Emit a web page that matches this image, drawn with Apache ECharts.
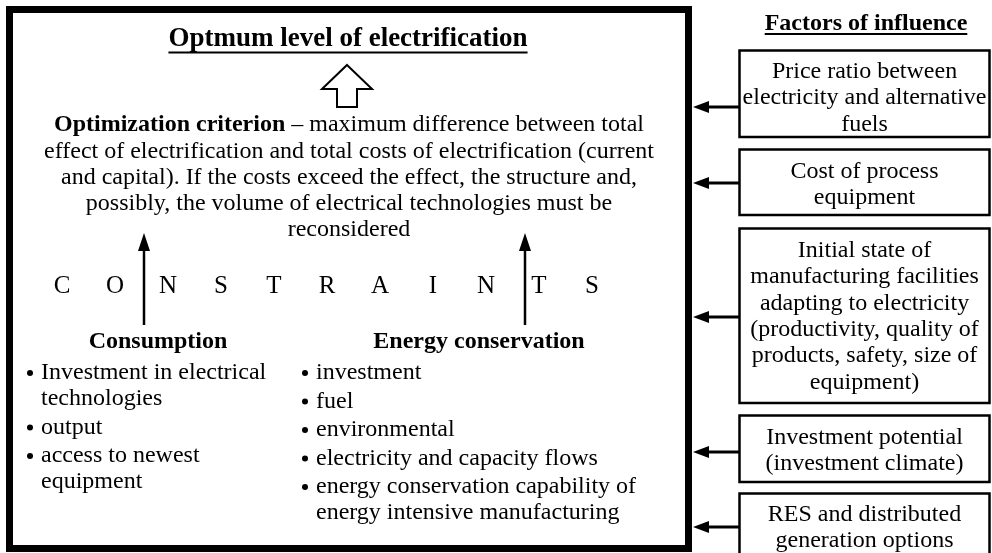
<!DOCTYPE html>
<html><head><meta charset="utf-8">
<script src="https://cdn.jsdelivr.net/npm/echarts@6/dist/echarts.min.js"></script>
<style>html,body{margin:0;padding:0;background:#fff}#c{width:992px;height:553px}</style>
</head><body><div id="c"></div><script>
// ---- content ----
const mainTitle = 'Optmum level of electrification';
const criterionLead = 'Optimization criterion';
const criterionLines = [
  ' \u2013 maximum difference between total',
  'effect of electrification and total costs of electrification (current',
  'and capital). If the costs exceed the effect, the structure and,',
  'possibly, the volume of electrical technologies must be',
  'reconsidered'
];
const constraintLetters = ['C','O','N','S','T','R','A','I','N','T','S'];
const consumptionHeading = 'Consumption';
const consumptionItems = [['Investment in electrical','technologies'],['output'],['access to newest','equipment']];
const conservationHeading = 'Energy conservation';
const conservationItems = [['investment'],['fuel'],['environmental'],['electricity and capacity flows'],['energy conservation capability of','energy intensive manufacturing']];
const factorsTitle = 'Factors of influence';
const factors = [
  ['Price ratio between','electricity and alternative','fuels'],
  ['Cost of process','equipment'],
  ['Initial state of','manufacturing facilities','adapting to electricity','(productivity, quality of','products, safety, size of','equipment)'],
  ['Investment potential','(investment climate)'],
  ['RES and distributed','generation options']
];

// ---- layout ----
const FF = "'Liberation Serif','Times New Roman',serif";
const L = {
  main: {x: 9.5, y: 9.5, w: 679, h: 539, lw: 7},
  titleY: 39.5, titleUnderY: 52.5, titleX: 348, titleFont: 27,
  hollow: {cx: 347, tip: 65, headY: 89, half: 25, shaftHalf: 10, bottom: 107},
  paraX: 349, paraY0: 125, paraLH: 26.3, paraFont: 24,
  arrowsX: [144, 525], arrowTip: 233, arrowHeadLen: 18, arrowHalf: 6, arrowBottom: 325,
  letterX0: 62, letterStep: 53, letterY: 286, letterFont: 25,
  headY: 342, consHeadX: 158, consvHeadX: 479,
  leftBulletX: 30, leftTextX: 41, rightBulletX: 305, rightTextX: 316, bulletR: 3,
  listY0: 373, listWrap: 26, listGap: 28.5,
  boxX: 739.5, boxR: 989.5, boxLW: 2.5,
  boxTop: [50.5, 149.5, 228.5, 415.5, 493.5], boxBottom: [137, 215, 403, 482, 562],
  boxTextY: [98, 185, 316.5, 450.5, 528], boxLH: 26.3, boxFont: 24,
  linkY: [107, 183, 317, 452, 527], linkTip: 693, linkHead: 16, linkHalf: 6,
  factorsTitleX: 866, factorsTitleY: 23.5, factorsUnderY: 34
};

const ctx = document.createElement('canvas').getContext('2d');
function measure(t, font){ ctx.font = font; return ctx.measureText(t).width; }

const els = [];
// main box
els.push({type:'rect', shape:{x:L.main.x, y:L.main.y, width:L.main.w, height:L.main.h}, style:{fill:'#fff', stroke:'#000', lineWidth:L.main.lw}});
// title
const tFont = 'bold ' + L.titleFont + 'px ' + FF;
els.push({type:'text', x:L.titleX, y:L.titleY, style:{text:mainTitle, font:tFont, fill:'#000', align:'center', verticalAlign:'middle'}});
const tw = measure(mainTitle, tFont);
els.push({type:'line', shape:{x1:L.titleX - tw/2, y1:L.titleUnderY, x2:L.titleX + tw/2, y2:L.titleUnderY}, style:{stroke:'#000', lineWidth:2}});
// hollow arrow
const h = L.hollow;
els.push({type:'polygon', shape:{points:[[h.cx,h.tip],[h.cx+h.half,h.headY],[h.cx+h.shaftHalf,h.headY],[h.cx+h.shaftHalf,h.bottom],[h.cx-h.shaftHalf,h.bottom],[h.cx-h.shaftHalf,h.headY],[h.cx-h.half,h.headY]]}, style:{fill:'#fff', stroke:'#000', lineWidth:2}});
// criterion paragraph
criterionLines.forEach(function(line, i){
  const txt = i === 0 ? '{b|' + criterionLead + '}{r|' + line + '}' : line;
  els.push({type:'text', x:L.paraX, y:L.paraY0 + i*L.paraLH, style:{
    text: txt, font: L.paraFont + 'px ' + FF, fill:'#000', align:'center', verticalAlign:'middle',
    rich: {b:{fontFamily:FF, fontSize:L.paraFont, fontWeight:'bold', fill:'#000'}, r:{fontFamily:FF, fontSize:L.paraFont, fill:'#000'}}
  }});
});
// vertical arrows
L.arrowsX.forEach(function(x){
  els.push({type:'line', shape:{x1:x, y1:L.arrowBottom, x2:x, y2:L.arrowTip + L.arrowHeadLen - 2}, style:{stroke:'#000', lineWidth:2.5}});
  els.push({type:'polygon', shape:{points:[[x, L.arrowTip],[x+L.arrowHalf, L.arrowTip+L.arrowHeadLen],[x-L.arrowHalf, L.arrowTip+L.arrowHeadLen]]}, style:{fill:'#000'}});
});
// constraint letters
constraintLetters.forEach(function(ch, i){
  els.push({type:'text', x:L.letterX0 + i*L.letterStep, y:L.letterY, style:{text:ch, font:L.letterFont + 'px ' + FF, fill:'#000', align:'center', verticalAlign:'middle'}});
});
// headings
els.push({type:'text', x:L.consHeadX, y:L.headY, style:{text:consumptionHeading, font:'bold 24px ' + FF, fill:'#000', align:'center', verticalAlign:'middle'}});
els.push({type:'text', x:L.consvHeadX, y:L.headY, style:{text:conservationHeading, font:'bold 24px ' + FF, fill:'#000', align:'center', verticalAlign:'middle'}});
// bullet lists
function list(items, bx, tx){
  let y = L.listY0;
  items.forEach(function(item){
    els.push({type:'circle', shape:{cx:bx, cy:y, r:L.bulletR}, style:{fill:'#000'}});
    item.forEach(function(line, j){
      els.push({type:'text', x:tx, y:y, style:{text:line, font:'24px ' + FF, fill:'#000', align:'left', verticalAlign:'middle'}});
      if (j < item.length - 1) y += L.listWrap;
    });
    y += L.listGap;
  });
}
list(consumptionItems, L.leftBulletX, L.leftTextX);
list(conservationItems, L.rightBulletX, L.rightTextX);
// factors title
const fFont = 'bold 24px ' + FF;
els.push({type:'text', x:L.factorsTitleX, y:L.factorsTitleY, style:{text:factorsTitle, font:fFont, fill:'#000', align:'center', verticalAlign:'middle'}});
const fw = measure(factorsTitle, fFont);
els.push({type:'line', shape:{x1:L.factorsTitleX - fw/2, y1:L.factorsUnderY, x2:L.factorsTitleX + fw/2, y2:L.factorsUnderY}, style:{stroke:'#000', lineWidth:2}});
// factor boxes
factors.forEach(function(lines, i){
  const top = L.boxTop[i], bot = L.boxBottom[i];
  els.push({type:'rect', shape:{x:L.boxX, y:top, width:L.boxR - L.boxX, height:bot - top}, style:{fill:'#fff', stroke:'#000', lineWidth:L.boxLW}});
  els.push({type:'text', x:(L.boxX + L.boxR)/2, y:L.boxTextY[i], style:{text:lines.join('\n'), font:L.boxFont + 'px ' + FF, lineHeight:L.boxLH, fill:'#000', align:'center', verticalAlign:'middle'}});
  const y = L.linkY[i];
  els.push({type:'line', shape:{x1:L.boxX, y1:y, x2:L.linkTip + L.linkHead - 2, y2:y}, style:{stroke:'#000', lineWidth:3}});
  els.push({type:'polygon', shape:{points:[[L.linkTip, y],[L.linkTip + L.linkHead, y - L.linkHalf],[L.linkTip + L.linkHead, y + L.linkHalf]]}, style:{fill:'#000'}});
});

const chart = echarts.init(document.getElementById('c'), null, {renderer:'canvas'});
chart.setOption({animation:false, backgroundColor:'#fff', graphic:{elements: els}});
</script></body></html>
